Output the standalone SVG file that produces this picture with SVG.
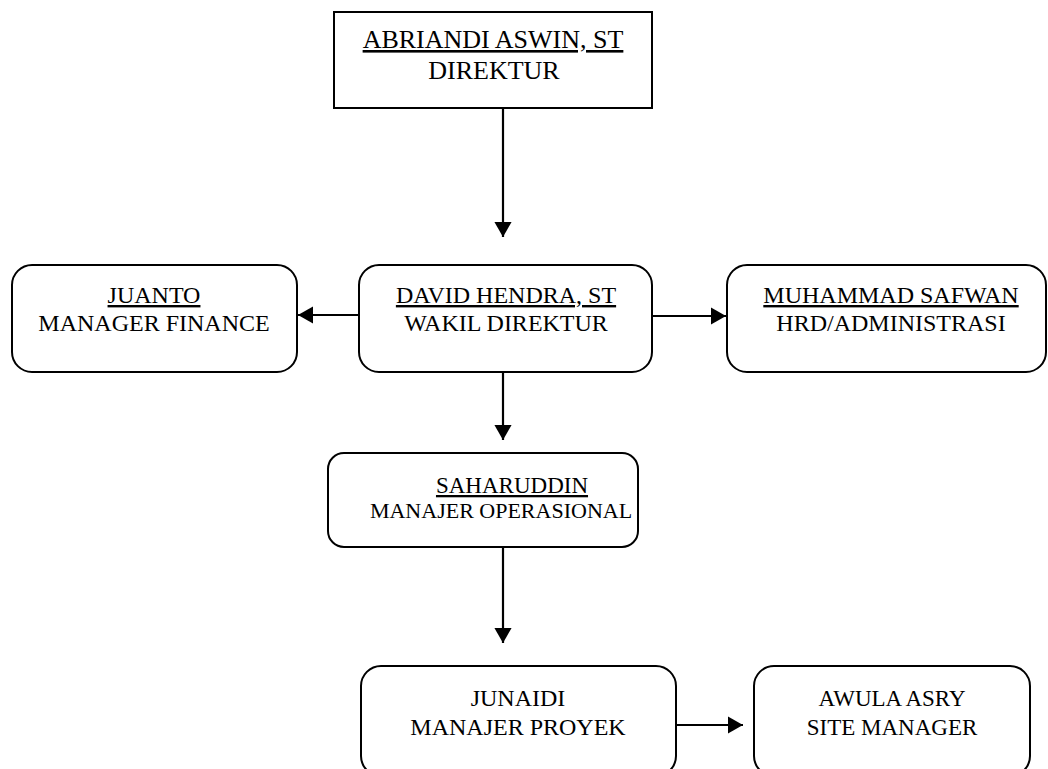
<svg xmlns="http://www.w3.org/2000/svg" width="1048" height="769" viewBox="0 0 1048 769">
  <style>
    .box { fill: #ffffff; stroke: #000000; stroke-width: 2; }
    .t { font-family: "Liberation Serif", "Times New Roman", serif; fill: #000000; text-anchor: middle; }
    .u { text-decoration: underline; }
    .c { stroke: #000000; stroke-width: 2.2; fill: none; }
  </style>
  <defs>
    <marker id="arr" markerWidth="8" markerHeight="8" refX="7" refY="4" orient="auto" markerUnits="strokeWidth">
      <path d="M0,0 L7,4 L0,8 Z" fill="#000000"/>
    </marker>
  </defs>
  <rect width="1048" height="769" fill="#ffffff"/>

  <g id="connectors">
    <line class="c" x1="503" y1="108" x2="503" y2="237" marker-end="url(#arr)"/>
    <line class="c" x1="359" y1="315" x2="298" y2="315" marker-end="url(#arr)"/>
    <line class="c" x1="652" y1="316" x2="726" y2="316" marker-end="url(#arr)"/>
    <line class="c" x1="503" y1="372" x2="503" y2="440" marker-end="url(#arr)"/>
    <line class="c" x1="503" y1="547" x2="503" y2="643" marker-end="url(#arr)"/>
    <line class="c" x1="676" y1="725" x2="743" y2="725" marker-end="url(#arr)"/>
  </g>

  <g id="direktur">
    <rect class="box" x="334" y="12" width="318" height="96"/>
    <text class="t u" x="493" y="48" font-size="26">ABRIANDI ASWIN, ST</text>
    <text class="t" x="494" y="79" font-size="26">DIREKTUR</text>
  </g>

  <g id="juanto">
    <rect class="box" x="12" y="265" width="285" height="107" rx="20" ry="20"/>
    <text class="t u" x="154" y="303" font-size="24">JUANTO</text>
    <text class="t" x="154" y="331" font-size="24">MANAGER FINANCE</text>
  </g>

  <g id="david">
    <rect class="box" x="359" y="265" width="293" height="107" rx="20" ry="20"/>
    <text class="t u" x="506" y="303" font-size="24">DAVID HENDRA, ST</text>
    <text class="t" x="506" y="331" font-size="24">WAKIL DIREKTUR</text>
  </g>

  <g id="muhammad">
    <rect class="box" x="727" y="265" width="319" height="107" rx="20" ry="20"/>
    <text class="t u" x="891" y="303" font-size="24">MUHAMMAD SAFWAN</text>
    <text class="t" x="891" y="331" font-size="24">HRD/ADMINISTRASI</text>
  </g>

  <g id="saharuddin">
    <rect class="box" x="328" y="453" width="310" height="94" rx="16" ry="16"/>
    <text class="t u" x="512" y="493" font-size="23">SAHARUDDIN</text>
    <text class="t" x="501" y="518" font-size="22">MANAJER OPERASIONAL</text>
  </g>

  <g id="junaidi">
    <rect class="box" x="361" y="666" width="315" height="110" rx="20" ry="20"/>
    <text class="t" x="518" y="706" font-size="24">JUNAIDI</text>
    <text class="t" x="518" y="735" font-size="24">MANAJER PROYEK</text>
  </g>

  <g id="awula">
    <rect class="box" x="754" y="666" width="276" height="110" rx="20" ry="20"/>
    <text class="t" x="892" y="706" font-size="23">AWULA ASRY</text>
    <text class="t" x="892" y="735" font-size="23">SITE MANAGER</text>
  </g>
</svg>
